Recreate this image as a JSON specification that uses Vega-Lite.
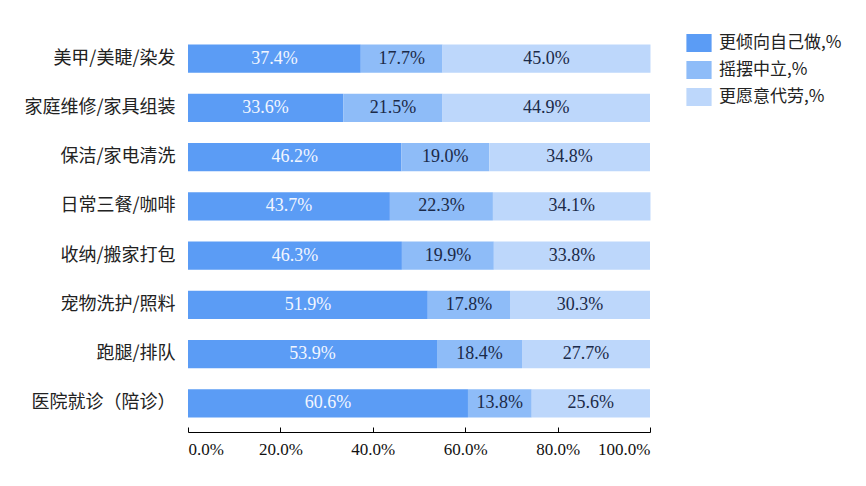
{
  "$schema": "https://vega.github.io/schema/vega-lite/v6.json",
  "width": 462,
  "height": 394,
  "autosize": {"type": "none"},
  "padding": {"left": 188, "top": 34, "right": 216, "bottom": 58},
  "background": "white",
  "data": {
    "values": [
      {"cat": "美甲/美睫/染发", "type": "更倾向自己做,%", "o": 1, "v": 0.374},
      {"cat": "美甲/美睫/染发", "type": "摇摆中立,%", "o": 2, "v": 0.177},
      {"cat": "美甲/美睫/染发", "type": "更愿意代劳,%", "o": 3, "v": 0.45},
      {"cat": "家庭维修/家具组装", "type": "更倾向自己做,%", "o": 1, "v": 0.336},
      {"cat": "家庭维修/家具组装", "type": "摇摆中立,%", "o": 2, "v": 0.215},
      {"cat": "家庭维修/家具组装", "type": "更愿意代劳,%", "o": 3, "v": 0.449},
      {"cat": "保洁/家电清洗", "type": "更倾向自己做,%", "o": 1, "v": 0.462},
      {"cat": "保洁/家电清洗", "type": "摇摆中立,%", "o": 2, "v": 0.19},
      {"cat": "保洁/家电清洗", "type": "更愿意代劳,%", "o": 3, "v": 0.348},
      {"cat": "日常三餐/咖啡", "type": "更倾向自己做,%", "o": 1, "v": 0.437},
      {"cat": "日常三餐/咖啡", "type": "摇摆中立,%", "o": 2, "v": 0.223},
      {"cat": "日常三餐/咖啡", "type": "更愿意代劳,%", "o": 3, "v": 0.341},
      {"cat": "收纳/搬家打包", "type": "更倾向自己做,%", "o": 1, "v": 0.463},
      {"cat": "收纳/搬家打包", "type": "摇摆中立,%", "o": 2, "v": 0.199},
      {"cat": "收纳/搬家打包", "type": "更愿意代劳,%", "o": 3, "v": 0.338},
      {"cat": "宠物洗护/照料", "type": "更倾向自己做,%", "o": 1, "v": 0.519},
      {"cat": "宠物洗护/照料", "type": "摇摆中立,%", "o": 2, "v": 0.178},
      {"cat": "宠物洗护/照料", "type": "更愿意代劳,%", "o": 3, "v": 0.303},
      {"cat": "跑腿/排队", "type": "更倾向自己做,%", "o": 1, "v": 0.539},
      {"cat": "跑腿/排队", "type": "摇摆中立,%", "o": 2, "v": 0.184},
      {"cat": "跑腿/排队", "type": "更愿意代劳,%", "o": 3, "v": 0.277},
      {"cat": "医院就诊（陪诊）", "type": "更倾向自己做,%", "o": 1, "v": 0.606},
      {"cat": "医院就诊（陪诊）", "type": "摇摆中立,%", "o": 2, "v": 0.138},
      {"cat": "医院就诊（陪诊）", "type": "更愿意代劳,%", "o": 3, "v": 0.256}
    ]
  },
  "transform": [
    {"stack": "v", "groupby": ["cat"], "sort": [{"field": "o", "order": "ascending"}], "as": ["v0", "v1"]},
    {"calculate": "(datum.v0 + datum.v1) / 2", "as": "mid"}
  ],
  "encoding": {
    "y": {
      "field": "cat",
      "type": "nominal",
      "sort": null,
      "scale": {"paddingInner": 0.43, "paddingOuter": 0.215},
      "axis": {
        "title": null,
        "ticks": false,
        "domain": false,
        "labelPadding": 13,
        "labelFont": "Noto Sans CJK SC",
        "labelFontSize": 18,
        "labelColor": "#222222"
      }
    }
  },
  "layer": [
    {
      "mark": {"type": "bar"},
      "encoding": {
        "x": {
          "field": "v0",
          "type": "quantitative",
          "scale": {"domain": [0, 1], "nice": false},
          "axis": {
            "title": null,
            "format": ".1%",
            "values": [0, 0.2, 0.4, 0.6, 0.8, 1],
            "grid": false,
            "offset": 4,
            "domainColor": "#000000",
            "tickColor": "#000000",
            "tickSize": -5,
            "labelPadding": 14,
            "labelFont": "Liberation Serif",
            "labelFontSize": 17,
            "labelColor": "#111111"
          }
        },
        "x2": {"field": "v1"},
        "color": {
          "field": "type",
          "type": "nominal",
          "sort": ["更倾向自己做,%", "摇摆中立,%", "更愿意代劳,%"],
          "scale": {
            "domain": ["更倾向自己做,%", "摇摆中立,%", "更愿意代劳,%"],
            "range": ["#5B9CF5", "#8EBCF8", "#BDD7FB"]
          },
          "legend": {
            "title": null,
            "orient": "none",
            "legendX": 502,
            "legendY": 0,
            "padding": 0,
            "symbolType": "M-1.4,-1H1.4V1H-1.4Z",
            "symbolSize": 324,
            "symbolStrokeWidth": 0,
            "symbolOpacity": 1,
            "rowPadding": 9,
            "labelOffset": 11,
            "labelFont": "Noto Sans CJK SC",
            "labelFontSize": 17,
            "labelColor": "#222222"
          }
        }
      }
    },
    {
      "mark": {"type": "text", "font": "Liberation Serif", "fontSize": 18, "baseline": "middle", "align": "center"},
      "encoding": {
        "x": {"field": "mid", "type": "quantitative"},
        "text": {"field": "v", "type": "quantitative", "format": ".1%"},
        "color": {
          "condition": {"test": "datum.o === 1", "value": "#F2F6FF"},
          "value": "#1B2A48"
        }
      }
    }
  ],
  "config": {
    "view": {"stroke": null}
  }
}
